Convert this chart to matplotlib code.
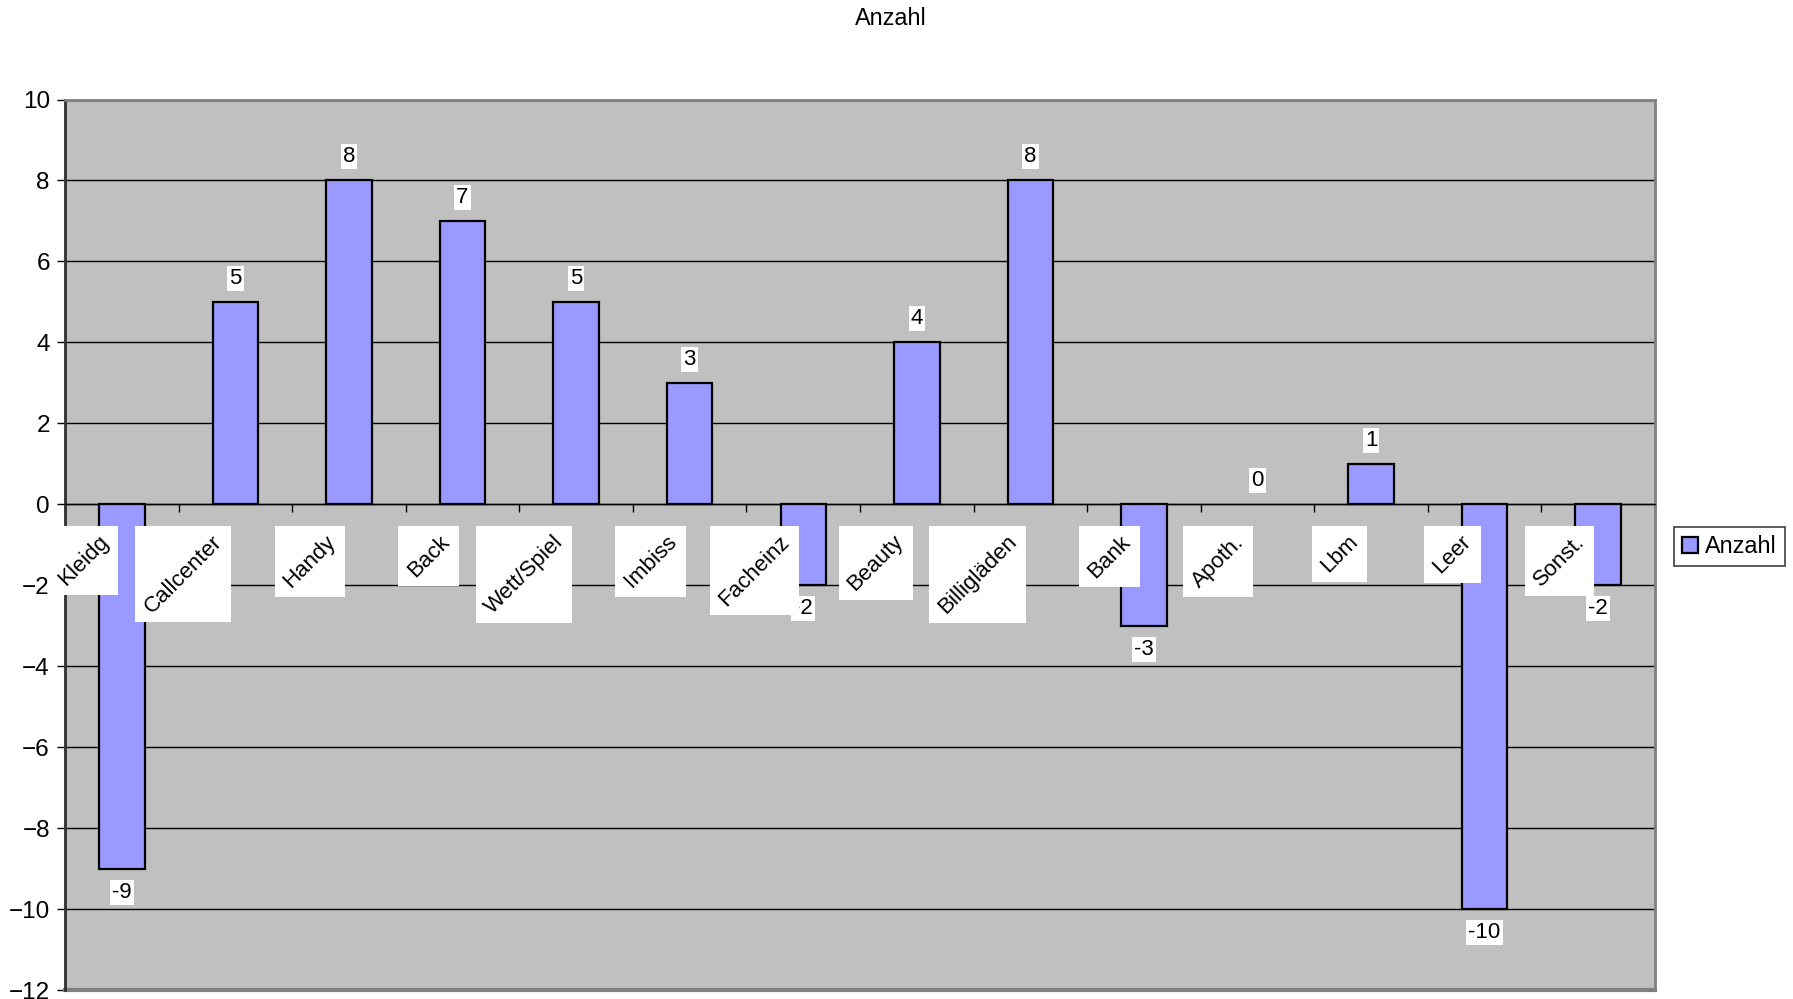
import matplotlib
matplotlib.use('Agg')
import matplotlib.pyplot as plt
import numpy as np
from matplotlib.patches import Rectangle
from matplotlib.transforms import IdentityTransform

categories = ['Kleidg', 'Callcenter', 'Handy', 'Back', 'Wett/Spiel', 'Imbiss',
              'Facheinz', 'Beauty', 'Billigläden', 'Bank', 'Apoth.', 'Lbm',
              'Leer', 'Sonst.']
values = [-9, 5, 8, 7, 5, 3, -2, 4, 8, -3, 0, 1, -10, -2]
y_ticks = [10, 8, 6, 4, 2, 0, -2, -4, -6, -8, -10, -12]
series_name = 'Anzahl'


def main():
    plt.rcParams['font.family'] = ['Liberation Sans', 'DejaVu Sans']

    fig = plt.figure(figsize=(17.93, 9.99), dpi=100)
    ax = fig.add_axes([0.0363, 0.009, 0.8867, 0.8914])
    ax.set_facecolor('#C0C0C0')

    x = np.arange(len(categories))
    bars = ax.bar(x, values, width=0.4, color='#9999FF', edgecolor='black',
                  linewidth=1.6, zorder=3, label=series_name)
    # a zero-height bar shows nothing
    for b, v in zip(bars, values):
        if v == 0:
            b.set_linewidth(0)

    ax.set_xlim(-0.5, len(categories) - 0.5)
    ax.set_ylim(min(y_ticks), max(y_ticks))
    ax.set_yticks(y_ticks)
    ax.tick_params(axis='y', direction='out', length=6, width=1, labelsize=17.5,
                   pad=5)
    ax.yaxis.grid(True, color='black', linewidth=1)
    ax.set_axisbelow(True)

    # Frame: dark left, grey elsewhere; x axis sits on zero
    for side in ['top', 'right']:
        ax.spines[side].set_color('#808080')
        ax.spines[side].set_linewidth(2)
    ax.spines['left'].set_color('#303030')
    ax.spines['left'].set_linewidth(2)
    ax.spines['bottom'].set_position(('data', 0))
    ax.spines['bottom'].set_linewidth(1)
    ax.axhline(min(y_ticks), color='#808080', linewidth=3, clip_on=False,
               zorder=1)
    ax.set_xticks(np.arange(len(categories) + 1) - 0.5)
    ax.set_xticklabels([])
    ax.tick_params(axis='x', direction='out', length=6, width=1)

    # Value labels
    for xi, v in zip(x, values):
        off = -17 if v < 0 else 17
        ax.annotate(str(v), (xi, v), xytext=(0, off), textcoords='offset points',
                    ha='center', va='center', fontsize=16, zorder=4,
                    bbox=dict(facecolor='white', edgecolor='none', pad=1.5))

    # Category labels, rotated, with upright white boxes
    labels = []
    for xi, name in zip(x, categories):
        t = ax.annotate(name, (xi, 0), xytext=(-6.5, -19.5),
                        textcoords='offset points', rotation=45, ha='right',
                        va='top', fontsize=16, zorder=6)
        labels.append(t)
    fig.canvas.draw()
    renderer = fig.canvas.get_renderer()
    for t in labels:
        bb = t.get_window_extent(renderer)
        pad = 5
        ax.add_patch(Rectangle((bb.x0 - pad, bb.y0 - pad), bb.width + 2 * pad,
                               bb.height + 2 * pad, transform=IdentityTransform(),
                               facecolor='white', edgecolor='none', zorder=5,
                               clip_on=False))

    fig.text(0.497, 0.981, series_name, ha='center', va='center', fontsize=16.8)

    leg = fig.legend(handles=[bars], labels=[series_name], loc='upper left',
                     bbox_to_anchor=(0.9335, 0.4725), fontsize=16.8,
                     fancybox=False, edgecolor='#404040', framealpha=1,
                     borderpad=0.35, borderaxespad=0, handlelength=0.7,
                     handleheight=0.7, handletextpad=0.3)
    leg.get_frame().set_linewidth(1.2)

    fig.savefig('out.png', dpi=100)
    plt.close()


if __name__ == "__main__":
    main()
